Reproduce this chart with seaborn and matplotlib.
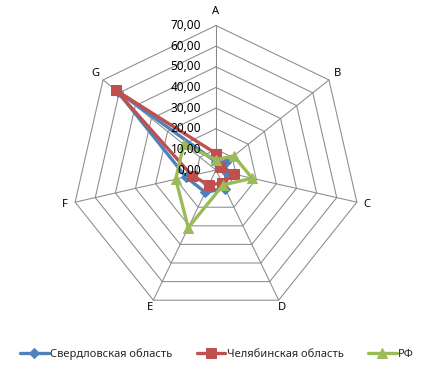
import numpy as np
import pandas as pd
import matplotlib
matplotlib.use("Agg")
import matplotlib.pyplot as plt
import matplotlib.transforms as mtransforms
import seaborn as sns

categories = ["A", "B", "C", "D", "E", "F", "G"]
sverdlovsk = [4, 6, 5, 10, 12, 15, 61]
chelyabinsk = [8, 2.5, 9, 7, 8, 12, 62]
rf = [5, 11, 18, 8, 31, 20, 20]
series_names = ["Свердловская область", "Челябинская область", "РФ"]
tick_values = [0, 10, 20, 30, 40, 50, 60, 70]
tick_labels = ["0,00", "10,00", "20,00", "30,00", "40,00", "50,00", "60,00", "70,00"]

colors = ["#4F81BD", "#C0504D", "#9BBB59"]
markers = ["D", "s", "^"]
msizes = [5.5, 7, 6.5]

sns.set_theme(style="white")
plt.rcParams["font.family"] = ["Noto Sans", "DejaVu Sans"]

fig = plt.figure(figsize=(4.31, 3.70), dpi=100)
ax = fig.add_axes([0.1659, 0.15, 0.6705, 0.781], projection="polar")
ax.set_theta_zero_location("N")
ax.set_theta_direction(-1)
ax.set_ylim(0, 70)
ax.grid(False)
ax.set_xticks([])
ax.set_yticks([])
ax.spines["polar"].set_visible(False)
ax.set_facecolor("none")

n = len(categories)
angles = np.arange(n) * 2 * np.pi / n
closed = np.append(angles, 2 * np.pi)
grid_color = "#8a8a8a"
for r in tick_values[1:]:
    ax.plot(closed, [r] * (n + 1), color=grid_color, lw=0.75, zorder=1, clip_on=False)
for a in angles:
    ax.plot([a, a], [0, 70], color=grid_color, lw=0.75, zorder=1, clip_on=False)

# data
all_series = [sverdlovsk, chelyabinsk, rf]
for i, (name, vals) in enumerate(zip(series_names, all_series)):
    df = pd.DataFrame({
        "theta": closed,
        "value": list(vals) + [vals[0]],
    })
    sns.lineplot(data=df, x="theta", y="value", sort=False, estimator=None,
                 color=colors[i], marker=markers[i], markersize=msizes[i],
                 markeredgecolor=colors[i], linewidth=2.4, label=name,
                 ax=ax, zorder=3 + i, clip_on=False)
ax.set_xlabel("")
ax.set_ylabel("")
handles, labels = ax.get_legend_handles_labels()
if ax.legend_ is not None:
    ax.legend_.remove()

# category labels
label_r = [77, 75, 75, 74, 74, 75, 75]
for a, c, r in zip(angles, categories, label_r):
    ax.text(a, r, c, ha="center", va="center", fontsize=8, color="#000000", clip_on=False)

# radial tick labels
off = mtransforms.offset_copy(ax.transData, fig=fig, x=-15, y=0, units="dots")
for v, t in zip(tick_values, tick_labels):
    ax.text(0, v, t, transform=off, ha="right", va="center", fontsize=8.5, color="#000000", zorder=10)

fig.legend(handles, labels, loc="center", bbox_to_anchor=(0.503, 1 - 354 / 370),
           ncol=3, frameon=False, fontsize=8, handlelength=2.6, handletextpad=0.1,
           columnspacing=2.2)

fig.savefig("out.png", dpi=100, facecolor="white")
